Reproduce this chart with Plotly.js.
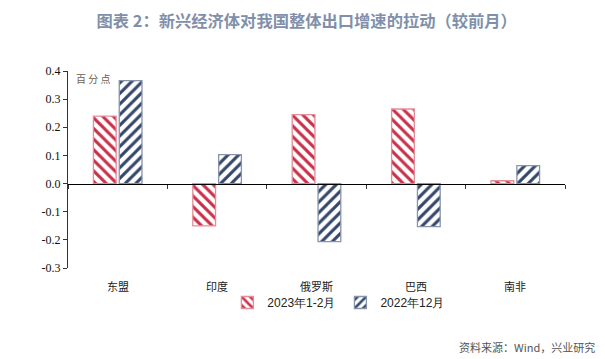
<!DOCTYPE html>
<html><head><meta charset="utf-8">
<script src="https://cdn.plot.ly/plotly-3.0.1.min.js"></script>
<style>body{margin:0;background:#fff}#c{width:605px;height:359px}</style>
</head><body><div id="c"></div>
<script>
const categories = ['东盟', '印度', '俄罗斯', '巴西', '南非'];
const series1Name = '2023年1-2月';
const series1 = [0.24, -0.15, 0.245, 0.265, 0.01];
const series2Name = '2022年12月';
const series2 = [0.366, 0.103, -0.206, -0.153, 0.064];
const yTicks = [-0.3, -0.2, -0.1, 0.0, 0.1, 0.2, 0.3, 0.4];
const yTickText = ['-0.3', '-0.2', '-0.1', '0.0', '0.1', '0.2', '0.3', '0.4'];

const yMin = -0.3, yMax = 0.4;
const traces = [
  {type:'bar', name:series1Name, x:categories, y:series1,
   marker:{color:'#ffffff', line:{color:'#E58D99', width:1.3},
     pattern:{shape:'\\', fgcolor:'#C9304A', bgcolor:'#ffffff', size:7.5, solidity:0.42, fgopacity:1, fillmode:'replace'}},
   hoverinfo:'skip'},
  {type:'bar', name:series2Name, x:categories, y:series2,
   marker:{color:'#ffffff', line:{color:'#8794AA', width:1.3},
     pattern:{shape:'/', fgcolor:'#34466A', bgcolor:'#ffffff', size:7.5, solidity:0.42, fgopacity:1, fillmode:'replace'}},
   hoverinfo:'skip'}
];

const annotations = categories.map(c => ({
  x:c, xref:'x', y:0, yref:'paper', yanchor:'top', yshift:-8, showarrow:false,
  text:c, font:{family:'Noto Sans CJK SC', size:11, color:'#222'}
}));
annotations.push({x:0.012, xref:'paper', y:1.0, yref:'paper', xanchor:'left', yanchor:'top', yshift:2, showarrow:false,
  text:'百 分 点', font:{family:'Noto Sans CJK SC', size:10, color:'#6b6150'}});
annotations.push({x:1, xref:'paper', xanchor:'right', xshift:32, y:-0.40, yref:'paper', yanchor:'middle', showarrow:false,
  text:'资料来源：Wind，兴业研究', font:{family:'Noto Sans CJK SC', size:11, color:'#555'}});

const layout = {
  width:605, height:359,
  margin:{l:68, r:40, t:71, b:91},
  paper_bgcolor:'#fff', plot_bgcolor:'#fff',
  title:{text:'<b>图表 2：新兴经济体对我国整体出口增速的拉动（较前月）</b>', x:0.507, xref:'container', xanchor:'center', y:0.9415, yref:'container', yanchor:'middle',
    font:{family:'Noto Sans CJK SC', size:16.3, color:'#8190AA'}},
  barmode:'group', bargap:0.48, bargroupgap:0.12,
  showlegend:true,
  legend:{orientation:'h', x:0.545, xanchor:'center', y:-0.175, yanchor:'middle',
    font:{family:'Liberation Sans', size:12, color:'#222'}, itemwidth:30, traceorder:'normal'},
  xaxis:{type:'category', anchor:'free', position:(0 - yMin)/(yMax - yMin), showline:true, linecolor:'#000', linewidth:1.2,
    ticks:'outside', tickson:'boundaries', ticklen:4, tickcolor:'#333', showticklabels:false, showgrid:false, zeroline:false,
    fixedrange:true},
  yaxis:{range:[yMin, yMax], domain:[0,1], tickvals:yTicks, ticktext:yTickText, ticks:'outside', ticklen:4, tickcolor:'#333',
    showline:true, linecolor:'#333', linewidth:1, showgrid:false, zeroline:false,
    tickfont:{family:'Liberation Serif', size:12, color:'#111'}},
  annotations:annotations
};
Plotly.newPlot('c', traces, layout, {displayModeBar:false, staticPlot:true});
</script></body></html>
